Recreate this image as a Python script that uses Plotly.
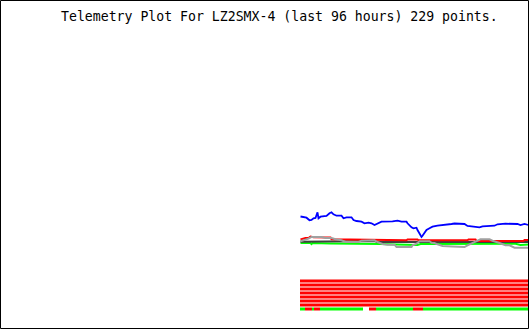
import plotly.graph_objects as go

TITLE = "Telemetry Plot For LZ2SMX-4 (last 96 hours) 229 points."
N_POINTS = 229

# sample index (0..228) and raw value readings
blue_idx = [0, 6, 9, 11, 13, 15, 17, 18, 20, 26, 29, 31, 33, 36, 41, 43, 46, 51, 53, 56, 61, 64, 68, 71, 74, 77,
            81, 92, 97, 101, 106, 107, 109, 111, 113, 116, 117, 119, 121, 122, 124, 126, 129, 132, 137, 146, 151,
            154, 164, 167, 172, 179, 182, 194, 197, 205, 217, 220, 224, 228]
blue_val = [113.5, 112.3, 109.7, 110, 111.7, 112, 117.7, 111.7, 113.3, 114, 116.7, 117.7, 115.7, 114.3, 114.3, 111.7,
            112.7, 112.7, 110, 109, 108.3, 106.7, 107.3, 106.7, 105, 106.7, 108.3, 108.7, 109.3, 108.3, 108.3, 106.7,
            104.3, 102.7, 101.7, 102.3, 100, 95.7, 93, 94.3, 97.7, 100, 101.7, 103.3, 104.3, 105, 106, 106.5, 106,
            104, 103.3, 102.7, 103.7, 104.3, 105.7, 106.3, 106, 105, 106, 105]

red_idx = [0, 5, 8, 10, 13, 30, 31, 61, 79, 106, 107, 117, 118, 167, 168, 175, 176, 223, 224, 228]
red_val = [90.5, 92, 92, 93.5, 92.7, 92.5, 90.7, 90.5, 89.7, 89.7, 90.5, 90.5, 89.7, 89.7, 90.5, 90.5, 89, 89, 90, 90]

dark_idx = [0, 44, 45, 75, 76, 228]
dark_val = [88.3, 88.3, 89, 89, 88, 88]

light_idx = [0, 3, 8, 11, 21, 25, 31, 35, 41, 45, 58, 61, 68, 74, 77, 82, 87, 94, 96, 111, 112, 116, 119, 129, 131,
             134, 137, 142, 152, 164, 167, 172, 175, 180, 189, 192, 199, 205, 209, 214, 228]
light_val = [88.7, 89.5, 91.3, 93, 93, 92, 92, 90.7, 89.7, 88, 88, 89.3, 89.3, 89.7, 88, 86, 85.3, 85.3, 83, 83, 84.7,
             86.3, 88.7, 88.7, 87.3, 87, 85.7, 84, 83.5, 83, 84.7, 87, 89, 90.7, 90.7, 89.3, 87, 84.7, 84.7, 82.3, 82.3]

green_idx = [0, 10, 11, 12, 30, 60, 80, 96, 117, 120, 140, 160, 200, 215, 220, 228]
green_val = [87, 87, 86, 87, 86.5, 86.5, 86, 85.5, 85, 86, 86, 86.3, 86.3, 86.3, 85, 85.5]

# digital bits (run-length: value, count); 1 = on (green), 0 = off (red), None = missing
bit_rows_y = [48.5, 44.5, 40.5, 36.5, 32.5, 28.5, 24.5, 20.5]
bit_runs = [
    [(0, 229)],
    [(0, 229)],
    [(0, 229)],
    [(0, 229)],
    [(0, 229)],
    [(0, 229)],
    [(0, 229)],
    [(1, 5), (0, 7), (1, 2), (0, 6), (1, 43), (None, 6), (0, 7), (1, 37), (0, 10), (1, 106)],
]

z = []
for runs in bit_runs:
    row = []
    for val, cnt in runs:
        row.extend([val] * cnt)
    z.append(row)

fig = go.Figure()
fig.add_trace(go.Heatmap(
    x=list(range(N_POINTS)), y=bit_rows_y, z=z, zmin=0, zmax=1,
    colorscale=[[0, "#ff0000"], [0.5, "#ff0000"], [0.5, "#00ff00"], [1, "#00ff00"]],
    showscale=False, xgap=0, ygap=1, hoverinfo="skip"))

fig.add_trace(go.Scatter(x=green_idx, y=green_val, mode="lines", line=dict(color="#00ff00", width=2)))
fig.add_trace(go.Scatter(x=dark_idx, y=dark_val, mode="lines", line=dict(color="#404040", width=2)))
fig.add_trace(go.Scatter(x=red_idx, y=red_val, mode="lines", line=dict(color="#ff0000", width=2)))
fig.add_trace(go.Scatter(x=light_idx, y=light_val, mode="lines", line=dict(color="#a0a0a0", width=2)))
fig.add_trace(go.Scatter(x=blue_idx, y=blue_val, mode="lines", line=dict(color="#0000ff", width=1.8)))

axis_common = dict(showgrid=False, zeroline=False, showticklabels=False, ticks="", showline=False)
fig.update_layout(
    width=530, height=330,
    margin=dict(l=0, r=0, t=0, b=0, pad=0),
    paper_bgcolor="white", plot_bgcolor="white",
    showlegend=False,
    xaxis=dict(range=[-300.5, 229.5], **axis_common),
    yaxis=dict(range=[0, 330], **axis_common),
    shapes=[dict(type="rect", xref="paper", yref="paper",
                 x0=0.5 / 530, x1=528.5 / 530, y0=1 - 328.5 / 330, y1=1 - 0.5 / 330,
                 line=dict(color="black", width=1), fillcolor="rgba(0,0,0,0)", layer="above")],
    annotations=[dict(text=TITLE, xref="paper", yref="paper", x=58.5 / 530, y=1 - 16.5 / 330,
                      xanchor="left", yanchor="middle", showarrow=False,
                      font=dict(family="DejaVu Sans Mono", size=13.2, color="black"))],
)

fig.write_html("out.html", config={"displayModeBar": False, "staticPlot": True})
